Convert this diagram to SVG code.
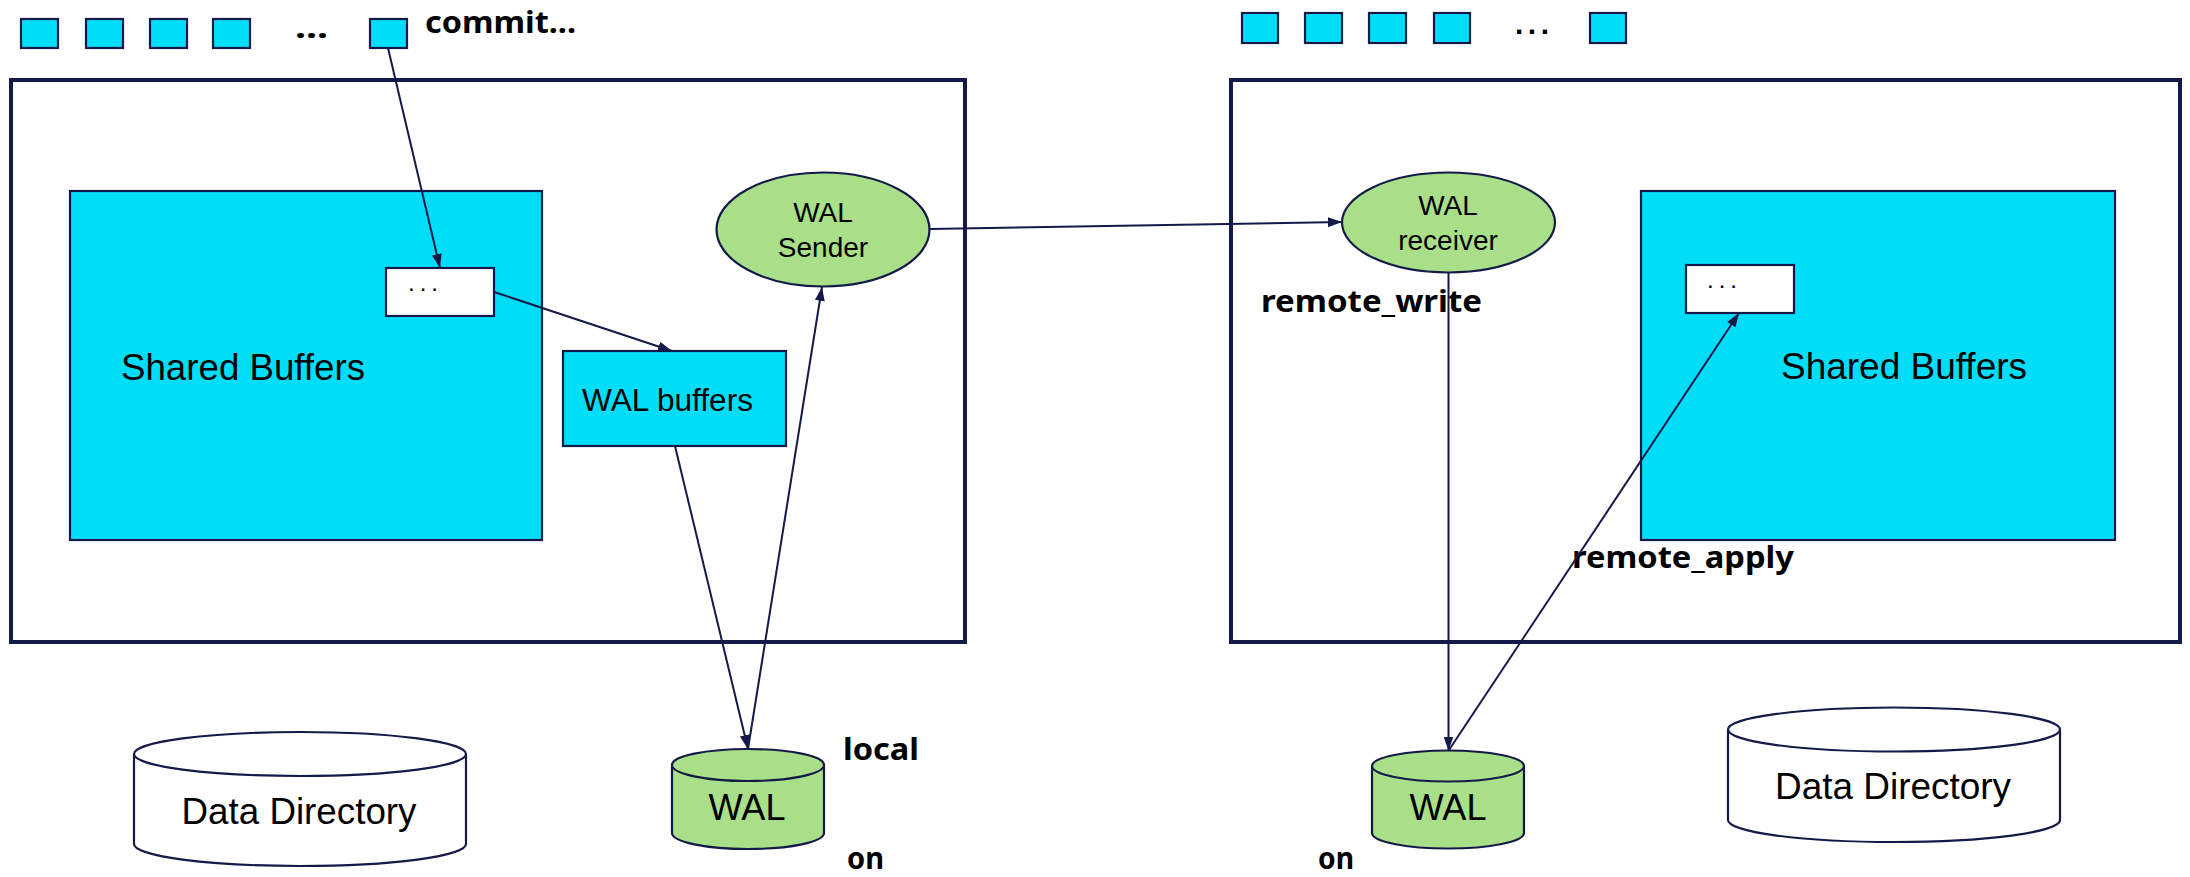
<svg xmlns="http://www.w3.org/2000/svg" width="2190" height="877" viewBox="0 0 2190 877">
  <style>
    .frame { fill: none; stroke: #141a48; stroke-width: 4; }
    .cyan { fill: #00ddf9; stroke: #141a48; stroke-width: 2.2; }
    .white { fill: #ffffff; stroke: #141a48; stroke-width: 2.2; }
    .green { fill: #a8df88; stroke: #141a48; stroke-width: 2.2; }
    .conn { fill: none; stroke: #141a48; stroke-width: 2; }
    .lbl { font-family: "Liberation Sans", Arial, sans-serif; fill: #000; }
    .bold { font-family: "Noto Sans", "DejaVu Sans", sans-serif; font-weight: bold; fill: #000; }
  </style>
  <defs>
    <marker id="arrow" viewBox="0 0 14 10" refX="14" refY="5" markerWidth="14" markerHeight="10" orient="auto" markerUnits="userSpaceOnUse">
      <path d="M0,0 L14,5 L0,10 z" fill="#141a48"/>
    </marker>
  </defs>

  <rect width="2190" height="877" fill="#ffffff"/>

  <!-- primary server -->
  <g id="primary">
    <rect class="frame" x="11" y="80" width="954" height="562"/>
  </g>
  <g id="primary-transactions">
    <rect class="cyan" x="21" y="19" width="37" height="29"/>
    <rect class="cyan" x="86" y="19" width="37" height="29"/>
    <rect class="cyan" x="150" y="19" width="37" height="29"/>
    <rect class="cyan" x="213" y="19" width="37" height="29"/>
    <text class="bold" x="295" y="38" font-size="30" textLength="33" lengthAdjust="spacingAndGlyphs">...</text>
    <rect class="cyan" x="370" y="19" width="37" height="29"/>
    <text class="bold" x="425" y="33" font-size="31" textLength="151" lengthAdjust="spacingAndGlyphs">commit...</text>
  </g>
  <g id="primary-shared-buffers">
    <rect class="cyan" x="70" y="191" width="472" height="349"/>
    <text class="lbl" x="121" y="380" font-size="36" textLength="244" lengthAdjust="spacingAndGlyphs">Shared Buffers</text>
  </g>
  <g id="primary-page">
    <rect class="white" x="386" y="268" width="108" height="48"/>
    <text class="lbl" x="408" y="291" font-size="24" textLength="30" lengthAdjust="spacing">...</text>
  </g>
  <g id="wal-buffers">
    <rect class="cyan" x="563" y="351" width="223" height="95"/>
    <text class="lbl" x="582" y="411" font-size="31" textLength="171" lengthAdjust="spacingAndGlyphs">WAL buffers</text>
  </g>
  <g id="wal-sender">
    <ellipse class="green" cx="823" cy="229.5" rx="106.5" ry="57"/>
    <text class="lbl" x="823" y="222" font-size="28" text-anchor="middle">WAL</text>
    <text class="lbl" x="823" y="257" font-size="28" text-anchor="middle">Sender</text>
  </g>
  <g id="primary-data-directory">
    <path class="white" d="M134,754 L134,844 A166,22 0 0 0 466,844 L466,754"/>
    <ellipse class="white" cx="300" cy="754" rx="166" ry="22"/>
    <text class="lbl" x="299" y="824" font-size="37" text-anchor="middle" textLength="235" lengthAdjust="spacingAndGlyphs">Data Directory</text>
  </g>
  <g id="primary-wal">
    <path class="green" d="M672,765 L672,833 A76,16 0 0 0 824,833 L824,765"/>
    <ellipse class="green" cx="748" cy="765" rx="76" ry="16"/>
    <text class="lbl" x="747" y="820" font-size="36" text-anchor="middle" textLength="77" lengthAdjust="spacingAndGlyphs">WAL</text>
  </g>
  <g id="primary-labels">
    <text class="bold" x="843" y="760" font-size="31" textLength="76" lengthAdjust="spacingAndGlyphs">local</text>
    <text class="bold" x="847" y="869" font-size="31" textLength="37" lengthAdjust="spacingAndGlyphs">on</text>
  </g>

  <!-- standby server -->
  <g id="standby">
    <rect class="frame" x="1231" y="80" width="949" height="562"/>
  </g>
  <g id="standby-transactions">
    <rect class="cyan" x="1242" y="13" width="36" height="30"/>
    <rect class="cyan" x="1305" y="13" width="37" height="30"/>
    <rect class="cyan" x="1369" y="13" width="37" height="30"/>
    <rect class="cyan" x="1434" y="13" width="36" height="30"/>
    <text class="lbl" x="1515" y="34" font-size="30" font-weight="bold" textLength="34" lengthAdjust="spacing">...</text>
    <rect class="cyan" x="1590" y="13" width="36" height="30"/>
  </g>
  <g id="wal-receiver">
    <ellipse class="green" cx="1448.5" cy="222.5" rx="106.5" ry="50"/>
    <text class="lbl" x="1448" y="215" font-size="28" text-anchor="middle">WAL</text>
    <text class="lbl" x="1448" y="250" font-size="28" text-anchor="middle">receiver</text>
  </g>
  <g id="standby-shared-buffers">
    <rect class="cyan" x="1641" y="191" width="474" height="349"/>
    <text class="lbl" x="1781" y="379" font-size="36" textLength="246" lengthAdjust="spacingAndGlyphs">Shared Buffers</text>
  </g>
  <g id="standby-page">
    <rect class="white" x="1686" y="265" width="108" height="48"/>
    <text class="lbl" x="1707" y="288" font-size="24" textLength="30" lengthAdjust="spacing">...</text>
  </g>
  <g id="standby-wal">
    <path class="green" d="M1372,766 L1372,833 A76,15.5 0 0 0 1524,833 L1524,766"/>
    <ellipse class="green" cx="1448" cy="766" rx="76" ry="15.5"/>
    <text class="lbl" x="1448" y="820" font-size="36" text-anchor="middle" textLength="77" lengthAdjust="spacingAndGlyphs">WAL</text>
  </g>
  <g id="standby-data-directory">
    <path class="white" d="M1728,729.5 L1728,820 A166,22 0 0 0 2060,820 L2060,729.5"/>
    <ellipse class="white" cx="1894" cy="729.5" rx="166" ry="22"/>
    <text class="lbl" x="1893" y="799" font-size="37" text-anchor="middle" textLength="236" lengthAdjust="spacingAndGlyphs">Data Directory</text>
  </g>
  <g id="standby-labels">
    <text class="bold" x="1261" y="312" font-size="31" textLength="221" lengthAdjust="spacingAndGlyphs">remote_write</text>
    <text class="bold" x="1572" y="568" font-size="31" textLength="222" lengthAdjust="spacingAndGlyphs">remote_apply</text>
    <text class="bold" x="1318" y="869" font-size="31" textLength="36" lengthAdjust="spacingAndGlyphs">on</text>
  </g>

  <!-- connectors -->
  <g id="connectors">
    <line class="conn" x1="388" y1="48" x2="440" y2="268" marker-end="url(#arrow)"/>
    <line class="conn" x1="494" y1="292" x2="672" y2="351" marker-end="url(#arrow)"/>
    <line class="conn" x1="675" y1="446" x2="748" y2="749" marker-end="url(#arrow)"/>
    <line class="conn" x1="748" y1="749" x2="822" y2="287" marker-end="url(#arrow)"/>
    <line class="conn" x1="930" y1="229" x2="1342" y2="222" marker-end="url(#arrow)"/>
    <line class="conn" x1="1448.5" y1="272.5" x2="1448.5" y2="750.5" marker-end="url(#arrow)"/>
    <line class="conn" x1="1449" y1="750" x2="1739" y2="313" marker-end="url(#arrow)"/>
  </g>
</svg>
